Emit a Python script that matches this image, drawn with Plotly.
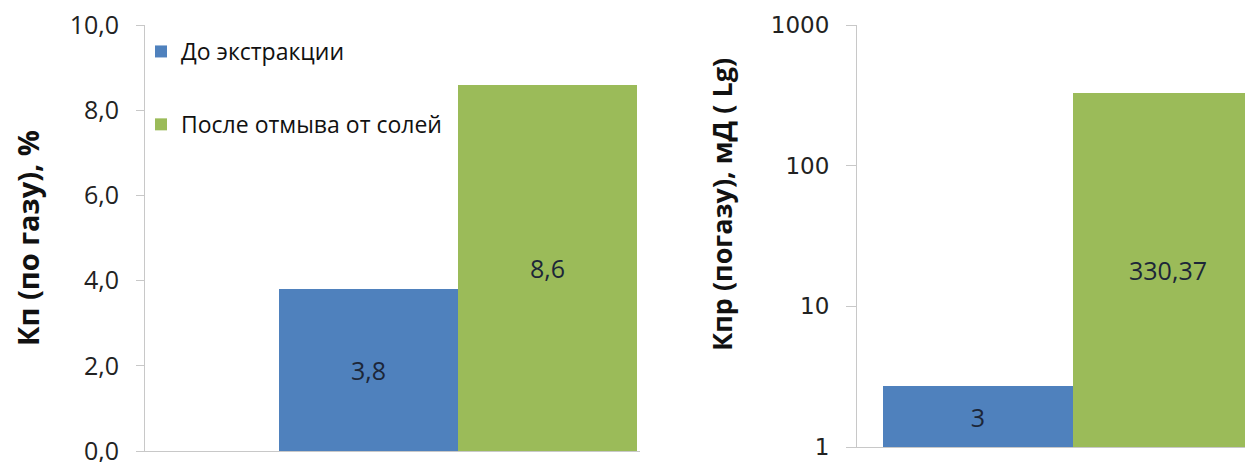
import plotly.graph_objects as go

W, H = 1253, 462
OFF = 8  # default page body margin
FW, FH = W - OFF, H - OFF

series_names = ["До экстракции", "После отмыва от солей"]
colors = ["#4F81BD", "#9BBB59"]
category = [""]

porosity_values = [3.8, 8.6]
porosity_labels = ["3,8", "8,6"]

perm_values = [2.72, 330.37]
perm_labels = ["3", "330,37"]

left_ticks = [0, 2, 4, 6, 8, 10]
left_ticktext = ["0,0", "2,0", "4,0", "6,0", "8,0", "10,0"]
right_ticks = [1, 10, 100, 1000]
right_ticktext = ["1", "10", "100", "1000"]

LABEL_COLOR = "#1c2638"

fig = go.Figure()

for i, name in enumerate(series_names):
    fig.add_trace(go.Bar(
        x=category, y=[porosity_values[i]], name=name,
        marker=dict(color=colors[i], line=dict(width=0)),
        text=[porosity_labels[i]], textposition="inside",
        insidetextanchor="middle", textangle=0,
        textfont=dict(family="Open Sans", size=25, color=LABEL_COLOR),
        xaxis="x", yaxis="y", legendgroup=name, showlegend=True,
    ))

for i, name in enumerate(series_names):
    fig.add_trace(go.Bar(
        x=category, y=[perm_values[i]], name=name,
        marker=dict(color=colors[i], line=dict(width=0)),
        text=[perm_labels[i]], textposition="inside",
        insidetextanchor="middle", textangle=0,
        textfont=dict(family="Open Sans", size=25, color=LABEL_COLOR),
        xaxis="x2", yaxis="y2", legendgroup=name, showlegend=False,
    ))


def fx(x):
    return (x - OFF) / FW


def fy(y):
    return 1 - (y - OFF) / FH


fig.update_layout(
    width=FW, height=FH,
    margin=dict(l=0, r=0, t=0, b=0),
    paper_bgcolor="white", plot_bgcolor="white",
    barmode="group", bargap=0, bargroupgap=0,
    font=dict(family="Open Sans", color="#222"),
    uniformtext=dict(mode=False),
    xaxis=dict(domain=[fx(145), fx(640)], range=[-0.874, 0.508],
               showticklabels=False, ticks="", showgrid=False,
               showline=True, linecolor="#c8c8c8", linewidth=1,
               zeroline=False, anchor="y", fixedrange=True, automargin=False),
    yaxis=dict(domain=[fy(451), fy(25)], range=[-0.0001, 10.0001],
               tickvals=left_ticks, ticktext=left_ticktext,
               ticks="outside", ticklen=8, tickcolor="#c8c8c8",
               ticklabelstandoff=12, ticklabeloverflow="allow",
               showgrid=False, showline=True, linecolor="#c8c8c8",
               linewidth=1, zeroline=False, automargin=False,
               tickfont=dict(family="Open Sans", size=25, color="#222"),
               title=dict(text="<b>Кп (по газу), %</b>", standoff=44,
                          font=dict(family="Open Sans", size=29, color="#111")),
               anchor="x"),
    xaxis2=dict(domain=[fx(857), 1.0], range=[-0.568, 0.474],
                showticklabels=False, ticks="", showgrid=False,
                showline=True, linecolor="#c8c8c8", linewidth=1,
                zeroline=False, anchor="y2", automargin=False),
    yaxis2=dict(domain=[fy(447), fy(25)], type="log", range=[0, 3],
                tickvals=right_ticks, ticktext=right_ticktext,
                ticks="outside", ticklen=10, tickcolor="#c8c8c8",
                ticklabelstandoff=12, ticklabeloverflow="allow",
                showgrid=False, showline=True, linecolor="#c8c8c8",
                linewidth=1, zeroline=False, automargin=False,
                tickfont=dict(family="DejaVu Sans", size=23, color="#222"),
                title=dict(text="&nbsp;" * 9 + "<b>Кпр (погазу), мД ( Lg)</b>",
                           standoff=30,
                           font=dict(family="Open Sans", size=27, color="#111")),
                anchor="x2"),
    legend=dict(x=fx(141), y=fy(30), xanchor="left", yanchor="top",
                bgcolor="rgba(0,0,0,0)", traceorder="grouped",
                tracegroupgap=40, itemwidth=30,
                font=dict(family="Open Sans", size=23, color="#111")),
)

fig.write_html("out.html")
